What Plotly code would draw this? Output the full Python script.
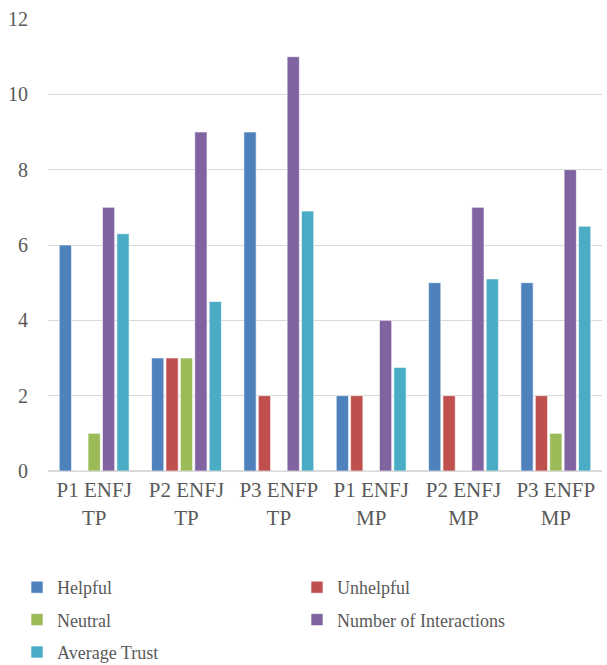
import plotly.graph_objects as go

categories = ["P1 ENFJ<br>TP", "P2 ENFJ<br>TP", "P3 ENFP<br>TP",
              "P1 ENFJ<br>MP", "P2 ENFJ<br>MP", "P3 ENFP<br>MP"]
helpful = [6, 3, 9, 2, 5, 5]
unhelpful = [0, 3, 2, 2, 2, 2]
neutral = [1, 3, 0, 0, 0, 1]
interactions = [7, 9, 11, 4, 7, 8]
average_trust = [6.3, 4.5, 6.9, 2.75, 5.1, 6.5]

series = [
    ("Helpful", helpful, "#4F81BD", "legend"),
    ("Unhelpful", unhelpful, "#C0504D", "legend2"),
    ("Neutral", neutral, "#9BBB59", "legend"),
    ("Number of Interactions", interactions, "#8064A2", "legend2"),
    ("Average Trust", average_trust, "#4BACC6", "legend"),
]

FONT = "Times New Roman, Liberation Serif, serif"
TEXT = "#595959"

fig = go.Figure()
for name, vals, color, lg in series:
    fig.add_trace(go.Bar(
        name=name, x=categories, y=vals,
        marker=dict(color=color, line=dict(color="white", width=0.6)),
        legend=lg, legendgroup=name,
    ))

# two legend columns laid out below the plot
legend_common = dict(
    orientation="v", xref="container", yref="container",
    yanchor="top", xanchor="left",
    font=dict(family=FONT, size=18, color=TEXT),
    tracegroupgap=6, bgcolor="rgba(0,0,0,0)",
)

fig.update_layout(
    width=607, height=665,
    margin=dict(l=48, r=5, t=19, b=194, autoexpand=False),
    paper_bgcolor="white", plot_bgcolor="white",
    barmode="group", bargap=0.22, bargroupgap=0.15,
    font=dict(family=FONT, size=20, color=TEXT),
    legend=dict(x=17 / 607, y=1 - 569 / 665, **legend_common),
    legend2=dict(x=297 / 607, y=1 - 569 / 665, **legend_common),
    xaxis=dict(showline=True, linecolor="#D9D9D9", linewidth=1,
               tickfont=dict(family=FONT, size=21, color=TEXT),
               ticks="", automargin=False),
    yaxis=dict(range=[0, 12], dtick=2, showgrid=True, gridcolor="#D9D9D9",
               gridwidth=1, zeroline=True, zerolinecolor="#D9D9D9",
               tickfont=dict(family=FONT, size=20, color=TEXT),
               ticklabelstandoff=19, automargin=False),
)

fig.write_html("out.html")
